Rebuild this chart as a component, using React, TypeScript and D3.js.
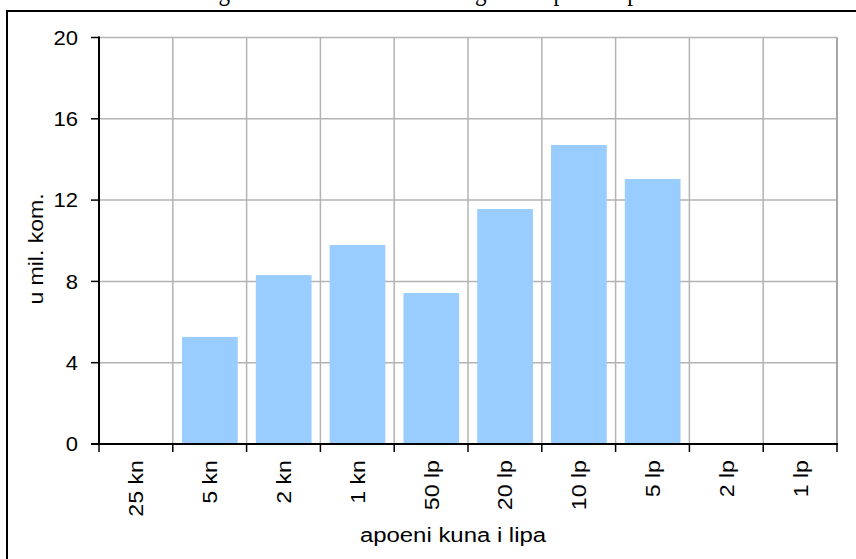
import React from "react";
import * as d3 from "d3";

const categories = ["25 kn", "5 kn", "2 kn", "1 kn", "50 lp", "20 lp", "10 lp", "5 lp", "2 lp", "1 lp"];
const values = [0, 5.27, 8.31, 9.79, 7.43, 11.56, 14.71, 13.04, 0, 0];
const yTicks = [0, 4, 8, 12, 16, 20];
const yTitle = "u mil. kom.";
const xTitle = "apoeni kuna i lipa";
const caption = "Slika 4: Novac izdan u gotovini – struktura kovanog novca prema apoenima";

const W = 856;
const H = 559;
const left = 99;
const right = 837;
const top = 37.5;
const bottom = 444;
const font = "'Liberation Sans', Arial, sans-serif";

export default function App() {
  const x = d3.scaleBand<string>().domain(categories).range([left, right]).padding(0);
  const y = d3.scaleLinear().domain([0, 20]).range([bottom, top]);
  const bw = x.bandwidth();
  const boundaries = d3.range(categories.length + 1).map((i) => left + i * bw);

  return (
    <svg
      width={W}
      height={H}
      style={{ position: "absolute", left: 0, top: 0, background: "#fff" }}
    >
      <rect x={0} y={0} width={W} height={H} fill="#fff" />
      <text
        x={2}
        y={-0.5}
        fontFamily="'Liberation Serif', 'Times New Roman', serif"
        fontSize={30}
        fill="#000"
        textLength={705}
        lengthAdjust="spacingAndGlyphs"
      >
        {caption}
      </text>
      {/* outer frame */}
      <rect x={7} y={11} width={W + 10} height={H + 10} fill="none" stroke="#000" strokeWidth={2} />

      {/* horizontal gridlines */}
      {yTicks.filter((t) => t > 0).map((t) => (
        <line key={"h" + t} x1={left} x2={right} y1={y(t)} y2={y(t)} stroke="#b3b3b3" strokeWidth={1.5} />
      ))}
      {/* vertical gridlines */}
      {boundaries.slice(1).map((bx, i) => (
        <line
          key={"v" + i}
          x1={bx}
          x2={bx}
          y1={top}
          y2={bottom}
          stroke={i === categories.length - 1 ? "#a6a6a6" : "#b3b3b3"}
          strokeWidth={i === categories.length - 1 ? 2 : 1.5}
        />
      ))}

      {/* bars */}
      {categories.map((c, i) =>
        values[i] > 0 ? (
          <rect
            key={c}
            x={(x(c) as number) + bw * 0.125}
            y={y(values[i])}
            width={bw * 0.755}
            height={bottom - y(values[i])}
            fill="#99ccff"
          />
        ) : null
      )}

      {/* y axis */}
      <line x1={left} x2={left} y1={top - 1} y2={bottom + 1} stroke="#000" strokeWidth={2} />
      {yTicks.map((t) => (
        <g key={"yt" + t}>
          <line x1={left - 8} x2={left} y1={y(t)} y2={y(t)} stroke="#000" strokeWidth={1.5} />
          <text
            transform={`translate(78,${y(t)}) scale(1.1,1)`}
            dy="0.36em"
            textAnchor="end"
            fontFamily={font}
            fontSize={20}
            fill="#000"
          >
            {t}
          </text>
        </g>
      ))}
      <text
        transform={`translate(43,249) rotate(-90) scale(1.15,1)`}
        textAnchor="middle"
        fontFamily={font}
        fontSize={20}
        fill="#000"
      >
        {yTitle}
      </text>

      {/* x axis */}
      <line x1={left - 8} x2={right + 1} y1={bottom} y2={bottom} stroke="#000" strokeWidth={2} />
      {boundaries.map((bx, i) => (
        <line key={"xt" + i} x1={bx} x2={bx} y1={bottom} y2={bottom + 8} stroke="#000" strokeWidth={1.5} />
      ))}
      {categories.map((c) => {
        const cx = (x(c) as number) + bw / 2;
        return (
          <text
            key={"xl" + c}
            transform={`translate(${cx + 7.5},460) rotate(-90) scale(1.13,1)`}
            textAnchor="end"
            fontFamily={font}
            fontSize={20.5}
            fill="#000"
          >
            {c}
          </text>
        );
      })}
      <text
        transform={`translate(453,542) scale(1.14,1)`}
        textAnchor="middle"
        fontFamily={font}
        fontSize={21}
        fill="#000"
      >
        {xTitle}
      </text>
    </svg>
  );
}
